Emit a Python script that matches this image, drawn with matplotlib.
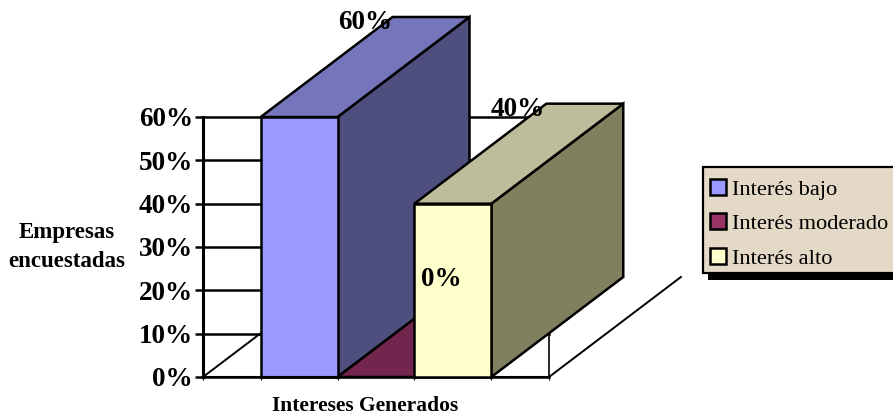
import matplotlib
matplotlib.use("Agg")
import matplotlib.pyplot as plt
from matplotlib.patches import Patch, Rectangle

W, H = 893, 416

series = ["Interés bajo", "Interés moderado", "Interés alto"]
values = [60, 0, 40]
labels = ["60%", "0%", "40%"]
front_colors = ["#9999FF", "#993366", "#FFFFCC"]
top_colors = ["#7575BB", "#72264D", "#BDBD9B"]
side_colors = ["#4F4F7F", "#4F1F3F", "#80805F"]
yticks = [0, 10, 20, 30, 40, 50, 60]
ytick_labels = ["0%", "10%", "20%", "30%", "40%", "50%", "60%"]

# depth of the fake 3d box, in data units
dx = 1.716
dy = 23.08
bw = 1.0

plt.rcParams["font.family"] = ["Liberation Serif", "DejaVu Serif"]
plt.rcParams["font.weight"] = "bold"

fig = plt.figure(figsize=(W / 100, H / 100), dpi=100)
ax = fig.add_axes([203 / W, (H - 377) / H, 346 / W, 260 / H])
ax.set_xlim(-1.25, 3.25)
ax.set_ylim(0, 60)

ax.spines["top"].set_visible(False)
ax.spines["left"].set_linewidth(2.2)
ax.spines["bottom"].set_linewidth(1.5)
ax.spines["right"].set_linewidth(1.2)

ax.set_yticks(yticks)
ax.set_yticklabels(ytick_labels, fontsize=19.5, fontweight="bold")
ax.tick_params(axis="y", length=6, width=1.8, pad=1.3)
ax.set_xticks([-1.25, -0.5, 0.5, 1.5, 2.5, 3.25])
ax.set_xticklabels([])
ax.tick_params(axis="x", length=2, width=0.8)
ax.yaxis.grid(True, color="black", lw=1.8, clip_on=False)
ax.set_axisbelow(True)

# floor edges
ax.plot([-1.25, -1.25 + dx], [0, dy], color="black", lw=1.4, clip_on=False, zorder=1.5)
ax.plot([3.25, 3.25 + dx], [0, dy], color="black", lw=1.4, clip_on=False, zorder=1.5)

edge = dict(edgecolor="black", lw=1.8, clip_on=False, joinstyle="miter")
for i, v in enumerate(values):
    x0, x1 = i - bw / 2, i + bw / 2
    z = 2 + i
    if v > 0:
        ax.fill([x1, x1 + dx, x1 + dx, x1], [0, dy, v + dy, v],
                facecolor=side_colors[i], zorder=z, **edge)
    ax.fill([x0, x1, x1 + dx, x0 + dx], [v, v, v + dy, v + dy],
            facecolor=top_colors[i], zorder=z, **edge)
    if v > 0:
        ax.fill([x0, x1, x1, x0], [0, 0, v, v],
                facecolor=front_colors[i], zorder=z, **edge)

# data labels, placed like the original
ax.text(0 - 0.5 + 1.357, 60 + 21.8, labels[0], fontsize=19.5, ha="center", va="center",
        clip_on=False, zorder=6)
ax.text(2 - 0.5 + 1.346, 40 + 21.8, labels[2], fontsize=19.5, ha="center", va="center",
        clip_on=False, zorder=6)
ax.text(1.85, 22.6, labels[1], fontsize=19.5, ha="center", va="center", clip_on=False, zorder=6)

ax.set_xlabel("Intereses Generados", fontsize=15.5, fontweight="bold")
ax.xaxis.set_label_coords(0.468, -0.073)
ax.set_ylabel("Empresas\nencuestadas", fontsize=16.5, fontweight="bold", rotation=0,
              ha="center", va="center", linespacing=1.55)
ax.yaxis.set_label_coords(-0.393, 0.5)

# legend box and shadow run off the right edge of the picture
fig.add_artist(Rectangle((708 / W, 1 - 280 / H), 200 / W, 105 / H, transform=fig.transFigure,
                         facecolor="black", edgecolor="none", zorder=8))
fig.add_artist(Rectangle((703 / W, 1 - 273 / H), 200 / W, 106 / H, transform=fig.transFigure,
                         facecolor="#E3D9C6", edgecolor="black", lw=1.6, zorder=9))

handles = [Patch(facecolor=c, edgecolor="black", lw=1.8) for c in front_colors]
leg = ax.legend(handles, series, loc="upper left", bbox_to_anchor=(710 / W, 1 - 178.8 / H),
                bbox_transform=fig.transFigure, borderaxespad=0, borderpad=0,
                prop={"weight": "normal", "size": 16.1, "family": "Liberation Serif"},
                handlelength=0.71, handleheight=0.71, handletextpad=0.27,
                labelspacing=0.62, frameon=False)
leg.set_zorder(10)
# the legend has to sit above the figure-level box
ax.set_zorder(1)
leg.remove()
fig.add_artist(leg)
leg.set_zorder(10)

fig.savefig("out.png", dpi=100)
